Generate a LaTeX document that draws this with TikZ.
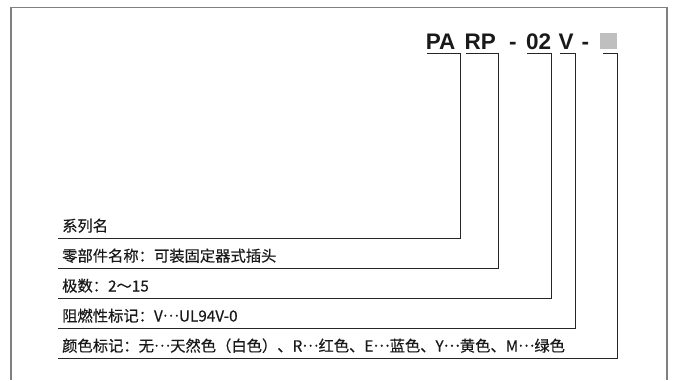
\documentclass[tikz,border=0pt]{standalone}
\usepackage{fontspec}
\newfontfamily\cjk[FakeBold=0.4]{Noto Sans CJK SC}
\newfontfamily\hel{Liberation Sans}
\newcommand\middots{\raisebox{0.32em}{…}}
\begin{document}
\begin{tikzpicture}[x=1pt,y=-1pt,
  title/.style={font=\hel\bfseries\fontsize{22.5}{22}\selectfont, inner sep=0pt, anchor=base west, text=black!90},
  label/.style={font=\cjk\fontsize{15.3}{16}\selectfont, inner sep=0pt, anchor=base west, text=black!90},
  frame/.style={draw=black!50, line width=1.5pt},
  bracket/.style={draw=black!85, line width=0.9pt}]
\useasboundingbox (0,0) rectangle (676,380);
% frame (open at bottom)
\draw[frame] (11,380) -- (11,7.5) -- (667,7.5) -- (667,380);
% title segments
\node[title] (pa) at (425.6,49) {PA};
\node[title] (rp) at (464.4,49) {RP};
\node[title] (d1) at (509.0,49) {-};
\node[title] (n02) at (526.0,49) {02};
\node[title] (v) at (558.5,49) {V};
\node[title] (d2) at (581.5,49) {-};
\node[fill=black!25, minimum width=17pt, minimum height=16pt, inner sep=0pt, anchor=north west] (sq) at (600,33) {};
% row labels
\node[label] (r1) at (62,231.5) {系列名};
\node[label] (r2) at (62,261.5) {零部件名称：可装固定器式插头};
\node[label] (r3) at (62,291.5) {极数：2～15};
\node[label] (r4) at (62,321.5) {阻燃性标记：V\middots UL94V-0};
\node[label] (r5) at (62,351.5) {颜色标记：无\middots 天然色（白色）、R\middots 红色、E\middots 蓝色、Y\middots 黄色、M\middots 绿色};
% bracket coordinates
\coordinate (a1) at (427,53); \coordinate (a2) at (460,53); \coordinate (a3) at (460,238); \coordinate (a4) at (58,238);
\coordinate (b1) at (466,53); \coordinate (b2) at (498,53); \coordinate (b3) at (498,268); \coordinate (b4) at (58,268);
\coordinate (c1) at (527,53); \coordinate (c2) at (551,53); \coordinate (c3) at (551,298); \coordinate (c4) at (58,298);
\coordinate (e1) at (560,53); \coordinate (e2) at (575,53); \coordinate (e3) at (575,328); \coordinate (e4) at (58,328);
\coordinate (f1) at (603,53); \coordinate (f2) at (617,53); \coordinate (f3) at (617,358); \coordinate (f4) at (58,358);
\draw[bracket] (a1) -- (a2) -- (a3) -- (a4);
\draw[bracket] (b1) -- (b2) -- (b3) -- (b4);
\draw[bracket] (c1) -- (c2) -- (c3) -- (c4);
\draw[bracket] (e1) -- (e2) -- (e3) -- (e4);
\draw[bracket] (f1) -- (f2) -- (f3) -- (f4);
\end{tikzpicture}
\end{document}
